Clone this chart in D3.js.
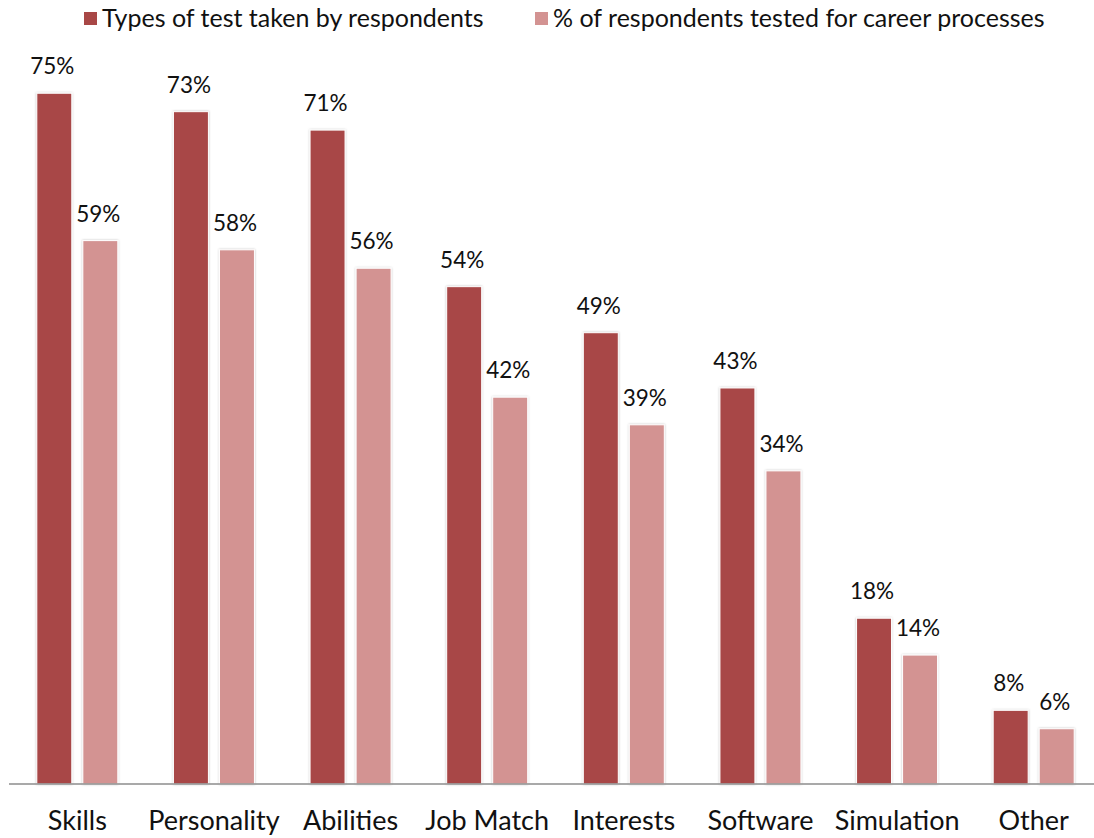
<!DOCTYPE html>
<html>
<head>
<meta charset="utf-8">
<script src="https://cdn.jsdelivr.net/npm/d3@7"></script>
<style>
  html, body { margin: 0; padding: 0; background: #fff; }
  svg { display: block; font-family: Lato, "Open Sans", sans-serif; }
</style>
</head>
<body>
<svg id="chart" width="1094" height="838"></svg>
<script>
const categories = ["Skills", "Personality", "Abilities", "Job Match", "Interests", "Software", "Simulation", "Other"];
const seriesNames = ["Types of test taken by respondents", "% of respondents tested for career processes"];
const typesTaken = [75, 73, 71, 54, 49, 43, 18, 8];
const careerProcesses = [59, 58, 56, 42, 39, 34, 14, 6];
const colors = ["#A84746", "#D39392"];

const seriesValues = [typesTaken, careerProcesses];
const data = categories.map((c, i) => ({ cat: c, vals: seriesValues.map((s, j) => ({ key: seriesNames[j], v: s[i], j })) }));

const svg = d3.select("#chart");
const baseY = 784;

const defs = svg.append("defs");
const f = defs.append("filter").attr("id", "shadow").attr("x", "-20%").attr("y", "-5%").attr("width", "140%").attr("height", "110%");
f.append("feDropShadow").attr("dx", 0).attr("dy", 0).attr("stdDeviation", 1.2).attr("flood-color", "#000").attr("flood-opacity", 0.25);

const x0 = d3.scaleBand().domain(categories).range([9, 1102]).paddingInner(0).paddingOuter(0);
const step = x0.bandwidth();
const x1 = d3.scaleBand().domain(seriesNames).range([step / 2 - 40.5, step / 2 + 40.5]).paddingInner(0.24).paddingOuter(0);
const y = d3.scaleLinear().domain([0, 80]).range([baseY, baseY - 80 * 9.21]);

const groups = svg.append("g").selectAll("g").data(data).join("g")
  .attr("transform", d => `translate(${x0(d.cat)},0)`);

groups.selectAll("rect").data(d => d.vals).join("rect")
  .attr("x", d => x1(d.key))
  .attr("y", d => y(d.v))
  .attr("width", x1.bandwidth())
  .attr("height", d => baseY - y(d.v))
  .attr("fill", d => colors[d.j])
  .attr("stroke", "#fff")
  .attr("stroke-width", 1)
  .attr("filter", "url(#shadow)");

groups.selectAll("text.lbl").data(d => d.vals).join("text")
  .attr("class", "lbl")
  .attr("x", d => x1(d.key) + x1.bandwidth() / 2 - 2)
  .attr("y", d => y(d.v) - 19)
  .attr("text-anchor", "middle")
  .attr("font-size", 22.5)
  .attr("fill", "#111")
  .text(d => d.v + "%");

// axis
const axis = d3.axisBottom(x0).tickSize(0).tickPadding(19);
const ax = svg.append("g").attr("transform", `translate(0,${baseY})`).call(axis);
ax.select(".domain").attr("stroke", "#8c8c8c").attr("stroke-width", 1.5).attr("d", `M9,0H1094`);
ax.selectAll(".tick text").attr("font-size", 27).attr("fill", "#111").attr("font-family", "Lato, 'Open Sans', sans-serif").attr("dy", "1.0em");

// legend
const legendItems = [
  { name: seriesNames[0], color: colors[0], x: 84 },
  { name: seriesNames[1], color: colors[1], x: 535 }
];
const lg = svg.append("g").selectAll("g").data(legendItems).join("g")
  .attr("transform", d => `translate(${d.x},0)`);
lg.append("rect").attr("x", 0).attr("y", 12).attr("width", 13).attr("height", 13).attr("fill", d => d.color);
lg.append("text").attr("x", 18).attr("y", 27).attr("font-size", 25).attr("fill", "#111").text(d => d.name);
</script>
</body>
</html>
